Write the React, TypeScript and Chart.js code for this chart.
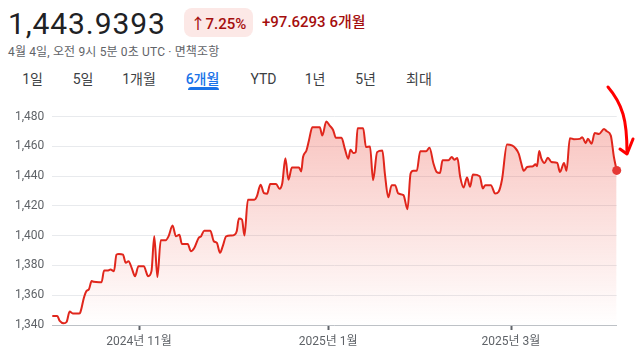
import React, { useEffect, useRef } from "react";
import { Chart, registerables } from "chart.js";

Chart.register(...registerables);

// ---- data (days since 2024-10-04, USD/KRW rate) ----
const dayOffsets = [
  0, 1.6, 2.4, 3.7, 4.6, 5.6, 6.6, 8.6, 9.0, 10.2,
  11.0, 11.8, 12.7, 13.4, 15.1, 15.9, 16.7, 17.8, 18.8, 19.9,
  20.7, 21.5, 22.8, 23.7, 24.6, 25.6, 26.7, 27.8, 29.6, 30.2,
  30.9, 32.0, 32.9, 33.9, 35.0, 36.6, 37.5, 38.8, 39.9, 41.0,
  41.8, 43.7, 44.7, 45.8, 47.2, 48.0, 49.0, 51.0, 52.1, 53.1,
  54.1, 55.0, 56.1, 57.7, 58.8, 59.5, 60.2, 61.2, 62.0, 63.1,
  65.2, 66.0, 67.2, 68.3, 69.3, 70.3, 72.2, 73.3, 74.2, 75.2,
  76.2, 77.3, 79.6, 80.3, 80.9, 82.0, 82.8, 83.9, 86.3, 87.1,
  88.4, 89.5, 90.6, 91.5, 93.3, 94.4, 95.5, 96.2, 97.1, 97.9,
  98.5, 100.3, 101.2, 102.5, 103.5, 104.8, 106.5, 107.3, 108.4, 109.5,
  110.6, 111.6, 113.3, 114.6, 115.6, 116.5, 117.6, 118.7, 120.6, 121.7,
  123.0, 124.0, 125.1, 125.9, 127.8, 128.9, 129.7, 130.7, 131.6, 132.7,
  133.8, 134.8, 135.7, 137.9, 138.9, 139.7, 141.5, 142.9, 144.0, 145.1,
  146.7, 148.3, 149.4, 150.5, 151.2, 152.1, 153.2, 155.1, 155.9, 156.4,
  157.1, 157.8, 158.8, 159.9, 161.0, 162.9, 163.8, 165.1, 165.9, 167.0,
  168.3, 170.2, 171.0, 172.1, 172.8, 174.0, 175.0, 176.4, 178.0, 178.9,
  180.2, 181.2, 182.1,
];
const rates = [
  1346, 1346, 1342.7, 1341.1, 1342, 1349, 1347.8, 1347.8, 1348.3, 1358.3,
  1362.8, 1363.9, 1369.5, 1369, 1368.8, 1368.8, 1376.6, 1376.6, 1377.3, 1376.2,
  1387.3, 1387.8, 1387.3, 1381.8, 1382.9, 1378.4, 1372.8, 1379.5, 1379.5, 1376.2,
  1372.8, 1376.2, 1399.6, 1372.2, 1397, 1397, 1399.6, 1406.8, 1399.6, 1400.7,
  1394.5, 1394.5, 1389.6, 1391.8, 1398.5, 1399.6, 1403.4, 1403.4, 1396.3, 1395.2,
  1388.5, 1393, 1399.6, 1400.1, 1400.7, 1403, 1411.5, 1410.8, 1400.1, 1424.2,
  1424.2, 1426.4, 1434.2, 1428.6, 1428.2, 1434.7, 1434.7, 1431.6, 1435.3, 1452.1,
  1437.6, 1445.8, 1445.8, 1443.2, 1452.9, 1457.3, 1464, 1472.9, 1472.9, 1467.3,
  1476.7, 1474, 1471.1, 1465.8, 1465.8, 1458.4, 1451.8, 1457.8, 1455.6, 1456.2,
  1472.2, 1472.2, 1459.6, 1460, 1437.3, 1456.2, 1457.3, 1441.8, 1425.8, 1434,
  1434, 1428.4, 1427.3, 1417.8, 1441.8, 1443.6, 1443.6, 1456.7, 1456.7, 1459.1,
  1448.4, 1442.9, 1442.2, 1450.7, 1450.7, 1452.9, 1451.1, 1452.2, 1439.6, 1432.4,
  1439.1, 1432.9, 1441.1, 1440, 1431.8, 1434, 1434, 1428.4, 1429.6, 1437.8,
  1461.3, 1460.7, 1458.9, 1455.1, 1449.6, 1443.6, 1446.2, 1446.7, 1448, 1446.7,
  1456.9, 1451.8, 1448.9, 1452.4, 1449.6, 1448.9, 1442.9, 1448.9, 1443.6, 1465.6,
  1464.9, 1465.1, 1466.2, 1462.2, 1465.1, 1461.8, 1469.1, 1468.4, 1471.8, 1470.2,
  1467.3, 1452.9, 1443.9,
];
const tickDays = [28, 89, 148];
const tickLabels = ["2024년 11월", "2025년 1월", "2025년 3월"];
const yMin = 1340;
const yMax = 1480;
const yStep = 20;

const priceText = "1,443.9393";
const pctText = "↑7.25%";
const changeText = "+97.6293 6개월";
const subtitleText = "4월 4일, 오전 9시 5분 0초 UTC · 면책조항";
const tabLabels = ["1일", "5일", "1개월", "6개월", "YTD", "1년", "5년", "최대"];
const activeTab = "6개월";

// layout only
const tabCenters = [32.5, 83, 139, 202.5, 263.5, 315, 365.5, 419];

const FONT = "Roboto, 'Noto Sans CJK KR', sans-serif";

export default function App() {
  const canvasRef = useRef<HTMLCanvasElement | null>(null);

  useEffect(() => {
    const canvas = canvasRef.current;
    if (!canvas) return;
    const lastIdx = rates.length - 1;
    const chart = new Chart(canvas, {
      type: "line",
      data: {
        datasets: [
          {
            data: dayOffsets.map((d, i) => ({ x: d, y: rates[i] })),
            borderColor: "#e0261c",
            borderWidth: 2,
            cubicInterpolationMode: "monotone",
            fill: "start",
            backgroundColor: (c: any) => {
              const { chart: ch } = c;
              const area = ch.chartArea;
              if (!area) return "rgba(234,67,53,0.2)";
              const g = ch.ctx.createLinearGradient(0, area.top, 0, area.bottom);
              g.addColorStop(0, "rgba(234,67,53,0.32)");
              g.addColorStop(1, "rgba(234,67,53,0)");
              return g;
            },
            pointRadius: (c: any) => (c.dataIndex === lastIdx ? 4.5 : 0),
            pointHoverRadius: 0,
            pointBackgroundColor: "#e53935",
            pointBorderWidth: 0,
            clip: false as any,
          },
        ],
      },
      options: {
        responsive: false,
        animation: false,
        events: [],
        layout: { padding: { top: 16.7, right: 23.3, left: 0, bottom: 0 } },
        plugins: {
          legend: { display: false },
          tooltip: { enabled: false },
        },
        scales: {
          x: {
            type: "linear",
            min: 0,
            max: dayOffsets[dayOffsets.length - 1],
            afterFit: (s: any) => {
              s.height = 35;
            },
            afterBuildTicks: (s: any) => {
              s.ticks = tickDays.map((v) => ({ value: v }));
            },
            grid: {
              display: true,
              drawOnChartArea: false,
              drawTicks: true,
              tickLength: 5,
              tickColor: "#5f6368",
              tickWidth: 2,
            },
            border: { display: true, color: "#bdc1c6", width: 1 },
            ticks: {
              autoSkip: false,
              maxRotation: 0,
              padding: 5,
              color: "#5f6368",
              font: { family: FONT, size: 12 },
              callback: (v: any) => {
                const i = tickDays.indexOf(Number(v));
                return i >= 0 ? tickLabels[i] : "";
              },
            },
          },
          y: {
            min: yMin,
            max: yMax,
            afterFit: (s: any) => {
              s.width = 52.3;
            },
            grid: { color: "#e8eaed", drawTicks: false },
            border: { display: false },
            ticks: {
              stepSize: yStep,
              padding: 8,
              color: "#5f6368",
              font: { family: FONT, size: 12 },
              callback: (v: any) => Number(v).toLocaleString("en-US"),
            },
          },
        },
      },
    });
    return () => chart.destroy();
  }, []);

  return (
    <div
      style={{
        position: "absolute",
        left: 0,
        top: 0,
        width: 640,
        height: 360,
        background: "#fff",
        fontFamily: FONT,
        overflow: "hidden",
      }}
    >
      <div
        style={{
          position: "absolute",
          left: 8,
          top: 8.6,
          fontSize: 30,
          lineHeight: "30px",
          color: "#202124",
          letterSpacing: 0.9,
          whiteSpace: "nowrap",
        }}
      >
        {priceText}
      </div>
      <div
        style={{
          position: "absolute",
          left: 184,
          top: 7.5,
          width: 69,
          height: 29,
          borderRadius: 8,
          background: "#fce8e6",
          color: "#a50e0e",
          fontSize: 15,
          fontWeight: 500,
          display: "flex",
          alignItems: "center",
          justifyContent: "center",
          whiteSpace: "nowrap",
        }}
      >
        {pctText}
      </div>
      <div
        style={{
          position: "absolute",
          left: 262,
          top: 12,
          lineHeight: "20px",
          fontSize: 15,
          fontWeight: 500,
          color: "#a50e0e",
          whiteSpace: "nowrap",
        }}
      >
        {changeText}
      </div>
      <div
        style={{
          position: "absolute",
          left: 8,
          top: 44,
          lineHeight: "16px",
          fontSize: 12,
          color: "#5f6368",
          letterSpacing: 0.15,
          whiteSpace: "nowrap",
        }}
      >
        {subtitleText}
      </div>
      {tabLabels.map((t, i) => (
        <div
          key={t}
          style={{
            position: "absolute",
            left: tabCenters[i],
            top: 68.5,
            transform: "translateX(-50%)",
            lineHeight: "20px",
            fontSize: 14,
            color: t === activeTab ? "#1a73e8" : "#3c4043",
            fontWeight: t === activeTab ? 500 : 400,
            whiteSpace: "nowrap",
          }}
        >
          {t}
        </div>
      ))}
      <div
        style={{
          position: "absolute",
          left: 188,
          top: 87,
          width: 31,
          height: 3,
          borderRadius: "3px 3px 0 0",
          background: "#1a73e8",
        }}
      />
      <div style={{ position: "absolute", left: 0, top: 100, width: 640, height: 260 }}>
        <canvas ref={canvasRef} width={640} height={260} />
      </div>
      <svg
        width={640}
        height={360}
        style={{ position: "absolute", left: 0, top: 0, pointerEvents: "none" }}
      >
        <path
          d="M608 87 C 614 94, 620 104, 623 114 S 627 135, 627 153"
          stroke="#ff0000"
          strokeWidth={3}
          fill="none"
          strokeLinecap="round"
        />
        <path
          d="M620 149 L627 154 L633 139"
          stroke="#ff0000"
          strokeWidth={3}
          fill="none"
          strokeLinecap="round"
          strokeLinejoin="round"
        />
      </svg>
    </div>
  );
}
